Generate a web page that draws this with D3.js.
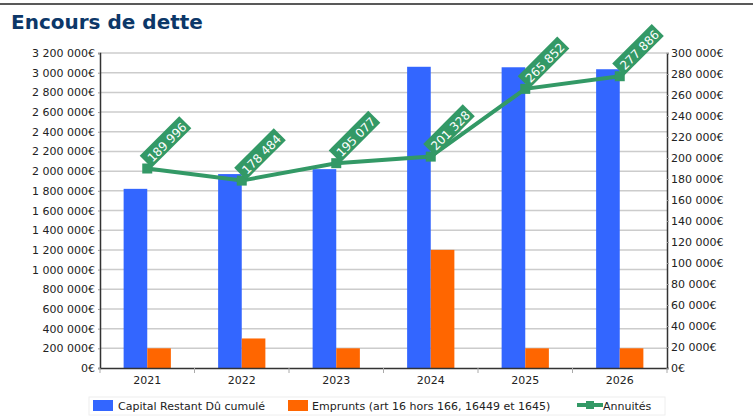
<!DOCTYPE html>
<html>
<head>
<meta charset="utf-8">
<script src="https://cdn.jsdelivr.net/npm/d3@7"></script>
<style>
  body { margin: 0; background: #fff; }
  svg { font-family: "DejaVu Sans", sans-serif; }
</style>
</head>
<body>
<svg id="chart" width="753" height="418"></svg>
<script>
const years = ["2021", "2022", "2023", "2024", "2025", "2026"];
const capitalRestant = [1820000, 1970000, 2020000, 3060000, 3055000, 3035000];
const emprunts = [200000, 300000, 200000, 1200000, 200000, 200000];
const annuites = [189996, 178484, 195077, 201328, 265852, 277886];
const leftTicks = d3.range(0, 3200001, 200000);
const rightTicks = d3.range(0, 300001, 20000);
const seriesNames = ["Capital Restant Dû cumulé", "Emprunts (art 16 hors 166, 16449 et 1645)", "Annuités"];

const colors = { capital: "#3366ff", emprunts: "#ff6600", annuites: "#339966" };

const svg = d3.select("#chart");
const margin = { left: 100, right: 86, top: 53, bottom: 50 };
const W = 753, H = 418;
const x0 = margin.left, x1 = W - margin.right, yTop = margin.top, yBot = H - margin.bottom;

// euro format with space thousands
const fmt = v => d3.format(",")(v).replace(/,/g, " ") + "€";
const fmtLabel = v => d3.format(",")(v).replace(/,/g, " ");

// top rule
svg.append("line").attr("x1", 0).attr("x2", W).attr("y1", 4).attr("y2", 4)
  .attr("stroke", "#222").attr("stroke-width", 1.5);

// title
svg.append("text").attr("x", 11).attr("y", 29)
  .attr("font-size", 20).attr("font-weight", "bold").attr("fill", "#0c3768")
  .text("Encours de dette");

const x = d3.scaleBand().domain(years).range([x0, x1]).paddingInner(0).paddingOuter(0);
const inner = d3.scaleBand().domain(["capital", "emprunts"]).range([0, x.bandwidth()])
  .paddingOuter(1).paddingInner(0);
const yL = d3.scaleLinear().domain([0, 3200000]).range([yBot, yTop]);
const yR = d3.scaleLinear().domain([0, 300000]).range([yBot, yTop]);

// gridlines
svg.append("g").selectAll("line").data(leftTicks.slice(1)).join("line")
  .attr("x1", x0).attr("x2", x1)
  .attr("y1", d => yL(d)).attr("y2", d => yL(d))
  .attr("stroke", "#cccccc").attr("stroke-width", 1.5);

// left axis
const gL = svg.append("g").attr("transform", `translate(${x0},0)`)
  .call(d3.axisLeft(yL).tickValues(leftTicks).tickFormat(fmt).tickSize(2).tickPadding(3));
gL.select(".domain").attr("stroke", "#333").attr("stroke-width", 1.5);
gL.selectAll(".tick line").attr("stroke", "#999");
gL.selectAll("text").attr("font-size", 11).attr("fill", "#222").attr("font-family", "DejaVu Sans");

// right axis
const gR = svg.append("g").attr("transform", `translate(${x1},0)`)
  .call(d3.axisRight(yR).tickValues(rightTicks).tickFormat(fmt).tickSize(2).tickPadding(2));
gR.select(".domain").attr("stroke", "#333").attr("stroke-width", 1.5);
gR.selectAll(".tick line").attr("stroke", "#999");
gR.selectAll("text").attr("font-size", 11).attr("fill", "#222").attr("font-family", "DejaVu Sans");

// bars
const groups = svg.append("g").selectAll("g").data(years).join("g")
  .attr("transform", d => `translate(${x(d)},0)`);
groups.append("rect")
  .attr("x", inner("capital")).attr("width", inner.bandwidth())
  .attr("y", (d, i) => yL(capitalRestant[i]))
  .attr("height", (d, i) => yBot - yL(capitalRestant[i]))
  .attr("fill", colors.capital);
groups.append("rect")
  .attr("x", inner("emprunts")).attr("width", inner.bandwidth())
  .attr("y", (d, i) => yL(emprunts[i]))
  .attr("height", (d, i) => yBot - yL(emprunts[i]))
  .attr("fill", colors.emprunts);

// x axis
const gX = svg.append("g").attr("transform", `translate(0,${yBot})`)
  .call(d3.axisBottom(x).tickSize(0).tickPadding(8));
gX.select(".domain").attr("stroke", "#333").attr("stroke-width", 1.5);
gX.selectAll("text").attr("font-size", 11).attr("fill", "#222").attr("font-family", "DejaVu Sans");
svg.append("g").selectAll("line").data(d3.range(years.length + 1)).join("line")
  .attr("x1", i => x0 + i * x.bandwidth()).attr("x2", i => x0 + i * x.bandwidth())
  .attr("y1", yBot).attr("y2", yBot + 5)
  .attr("stroke", "#aaa").attr("stroke-width", 1);

// line series
const cx = d => x(d) + x.bandwidth() / 2;
const line = d3.line().x((d, i) => cx(years[i])).y(d => yR(d));
svg.append("path").datum(annuites).attr("d", line)
  .attr("fill", "none").attr("stroke", colors.annuites).attr("stroke-width", 4);
svg.append("g").selectAll("rect").data(annuites).join("rect")
  .attr("x", (d, i) => cx(years[i]) - 5).attr("y", d => yR(d) - 5)
  .attr("width", 10).attr("height", 10).attr("fill", colors.annuites);

// data labels
const labels = svg.append("g").selectAll("g").data(annuites).join("g")
  .attr("transform", (d, i) => `translate(${cx(years[i]) - 0.5},${yR(d)}) rotate(-45)`);
labels.append("rect").attr("x", 4).attr("y", -14).attr("width", 56).attr("height", 17)
  .attr("fill", colors.annuites);
labels.append("text").attr("x", 8).attr("y", 0)
  .attr("font-size", 12).attr("fill", "#fff")
  .text(d => fmtLabel(d));

// legend
const leg = svg.append("g");
leg.append("rect").attr("x", 89).attr("y", 397).attr("width", 576).attr("height", 18)
  .attr("fill", "none").attr("stroke", "#eee");
leg.append("rect").attr("x", 93).attr("y", 400).attr("width", 20).attr("height", 11).attr("fill", colors.capital);
leg.append("text").attr("x", 118).attr("y", 410).attr("font-size", 11).attr("fill", "#222").text(seriesNames[0]);
leg.append("rect").attr("x", 288).attr("y", 400).attr("width", 20).attr("height", 11).attr("fill", colors.emprunts);
leg.append("text").attr("x", 312).attr("y", 410).attr("font-size", 11).attr("fill", "#222").text(seriesNames[1]);
leg.append("line").attr("x1", 577).attr("x2", 603).attr("y1", 405).attr("y2", 405)
  .attr("stroke", colors.annuites).attr("stroke-width", 4);
leg.append("rect").attr("x", 586).attr("y", 401).attr("width", 8).attr("height", 8).attr("fill", colors.annuites);
leg.append("text").attr("x", 603).attr("y", 410).attr("font-size", 11).attr("fill", "#222").text(seriesNames[2]);
</script>
</body>
</html>
